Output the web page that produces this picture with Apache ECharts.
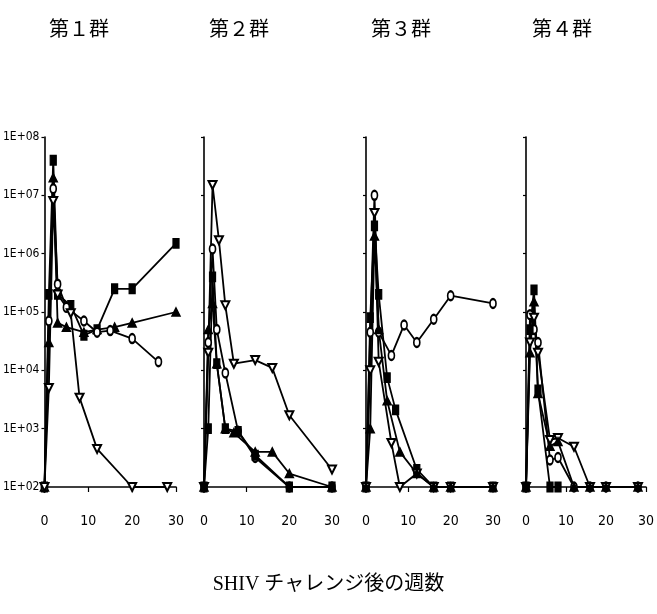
<!DOCTYPE html>
<html><head><meta charset="utf-8">
<script src="https://cdn.jsdelivr.net/npm/echarts@6/dist/echarts.min.js"></script>
<style>html,body{margin:0;padding:0;background:#fff}#c{width:657px;height:614px}</style>
</head><body><div id="c"></div>
<script>
const panelTitles = ['第１群', '第２群', '第３群', '第４群'];
const xAxisTitle = 'SHIV チャレンジ後の週数';
const xTicks = [0, 10, 20, 30];
const yTickExponents = [2, 3, 4, 5, 6, 7, 8];

// Group 1
const g1SquareWeeks = [0, 1, 2, 3, 6, 9, 12, 16, 20, 30];
const g1SquareVals  = [100, 2e5, 4e7, 2e5, 1.3e5, 4e4, 5e4, 2.5e5, 2.5e5, 1.5e6];
const g1TriWeeks    = [0, 1, 2, 3, 5, 9, 12, 16, 20, 30];
const g1TriVals     = [100, 3e4, 2e7, 6.5e4, 5.5e4, 4.5e4, 5e4, 5.5e4, 6.5e4, 1e5];
const g1CircWeeks   = [0, 1, 2, 3, 5, 9, 12, 15, 20, 26];
const g1CircVals    = [100, 7e4, 1.3e7, 3e5, 1.2e5, 7e4, 4.5e4, 4.8e4, 3.5e4, 1.4e4];
const g1DTriWeeks   = [0, 1, 2, 3, 6, 8, 12, 20, 28];
const g1DTriVals    = [100, 5e3, 8e6, 2e5, 9.5e4, 3.4e3, 450, 100, 100];

// Group 2
const g2DTriWeeks   = [0, 1, 2, 3.5, 5, 7, 12, 16, 20, 30];
const g2DTriVals    = [100, 2e4, 1.5e7, 1.7e6, 1.3e5, 1.3e4, 1.5e4, 1.1e4, 1.7e3, 200];
const g2CircWeeks   = [0, 1, 2, 3, 5, 8, 12, 20, 30];
const g2CircVals    = [100, 3e4, 1.2e6, 5e4, 9e3, 900, 320, 100, 100];
const g2TriWeeks    = [0, 1, 2, 3, 5, 7, 12, 16, 20, 30];
const g2TriVals     = [100, 5e4, 1.4e5, 1.3e4, 1e3, 850, 400, 400, 170, 100];
const g2SquareWeeks = [0, 1, 2, 3, 5, 8, 12, 20, 30];
const g2SquareVals  = [100, 1e3, 4e5, 1.3e4, 1e3, 900, 350, 100, 100];

// Group 3
const g3CircWeeks   = [0, 1, 2, 3, 6, 9, 12, 16, 20, 30];
const g3CircVals    = [100, 4.5e4, 1e7, 4.5e4, 1.8e4, 6e4, 3e4, 7.5e4, 1.9e5, 1.4e5];
const g3SquareWeeks = [0, 1, 2, 3, 5, 7, 12, 16, 20, 30];
const g3SquareVals  = [100, 8e4, 3e6, 2e5, 7.5e3, 2.1e3, 200, 100, 100, 100];
const g3DTriWeeks   = [0, 1, 2, 3, 6, 8, 12, 16, 20, 30];
const g3DTriVals    = [100, 1e4, 5e6, 1.4e4, 570, 100, 170, 100, 100, 100];
const g3TriWeeks    = [0, 1, 2, 3, 5, 8, 12, 16, 20, 30];
const g3TriVals     = [100, 1e3, 2e6, 5e4, 3e3, 400, 170, 100, 100, 100];

// Group 4
const g4CircWeeks   = [0, 1, 2, 3, 6, 8, 12, 16, 20, 28];
const g4CircVals    = [100, 9e4, 5e4, 3e4, 290, 320, 100, 100, 100, 100];
const g4DTriWeeks   = [0, 1, 2, 3, 6, 8, 12, 16, 20, 28];
const g4DTriVals    = [100, 3e4, 8e4, 2e4, 640, 690, 490, 100, 100, 100];
const g4SquareWeeks = [0, 1, 2, 3, 6, 8];
const g4SquareVals  = [100, 5e4, 2.4e5, 4.6e3, 100, 100];
const g4TriWeeks    = [0, 1, 2, 3, 6, 8, 12, 16, 20, 28];
const g4TriVals     = [100, 2e4, 1.5e5, 4e3, 500, 600, 100, 100, 100, 100];

const panels = [
  [['sq', g1SquareWeeks, g1SquareVals], ['tri', g1TriWeeks, g1TriVals], ['circ', g1CircWeeks, g1CircVals], ['dtri', g1DTriWeeks, g1DTriVals]],
  [['dtri', g2DTriWeeks, g2DTriVals], ['circ', g2CircWeeks, g2CircVals], ['tri', g2TriWeeks, g2TriVals], ['sq', g2SquareWeeks, g2SquareVals]],
  [['circ', g3CircWeeks, g3CircVals], ['sq', g3SquareWeeks, g3SquareVals], ['dtri', g3DTriWeeks, g3DTriVals], ['tri', g3TriWeeks, g3TriVals]],
  [['circ', g4CircWeeks, g4CircVals], ['dtri', g4DTriWeeks, g4DTriVals], ['sq', g4SquareWeeks, g4SquareVals], ['tri', g4TriWeeks, g4TriVals]]
];

const gridLefts = [40, 204, 366, 526];
const gridWidths = [136, 128, 127, 128];
const titleCenters = [79, 239, 401, 562];
const narrow = "'Liberation Sans Narrow', 'DejaVu Sans Condensed', sans-serif";

const symbolStyle = {
  sq:   { symbol: 'rect', symbolSize: [6, 9], symbolRotate: 0 },
  tri:  { symbol: 'triangle', symbolSize: [8, 8], symbolRotate: 0 },
  circ: { symbol: 'emptyCircle', symbolSize: [6, 9], symbolRotate: 0 },
  dtri: { symbol: 'emptyTriangle', symbolSize: [8, 8], symbolRotate: 180 }
};

const grids = [], xAxes = [], yAxes = [], series = [];
panels.forEach((panel, i) => {
  grids.push({ left: gridLefts[i], width: gridWidths[i], top: 137, bottom: 127 });
  xAxes.push({
    type: 'value', gridIndex: i, min: xTicks[0], max: xTicks[xTicks.length - 1], interval: 10,
    axisLine: { show: true, onZero: false, lineStyle: { color: '#000', width: 1.6 } },
    axisTick: { show: true, inside: false, length: 5, lineStyle: { color: '#000', width: 1.2 } },
    splitLine: { show: false },
    axisLabel: { margin: 27, color: '#000', fontFamily: narrow, fontSize: 14 }
  });
  yAxes.push({
    type: 'log', logBase: 10, gridIndex: i,
    min: Math.pow(10, yTickExponents[0]), max: Math.pow(10, yTickExponents[yTickExponents.length - 1]),
    axisLine: { show: true, lineStyle: { color: '#000', width: 1.6 } },
    axisTick: { show: true, inside: false, length: 3, lineStyle: { color: '#000', width: 1.2 } },
    splitLine: { show: false },
    minorTick: { show: false },
    axisLabel: {
      show: i === 0, margin: 5, color: '#000', fontFamily: narrow, fontSize: 12,
      formatter: v => '1E+' + String(Math.round(Math.log10(v))).padStart(2, '0')
    }
  });
  panel.forEach(([kind, w, v]) => {
    const s = symbolStyle[kind];
    series.push({
      type: 'line', xAxisIndex: i, yAxisIndex: i,
      data: w.map((wk, k) => [wk, v[k]]),
      symbol: s.symbol, symbolSize: s.symbolSize, symbolRotate: s.symbolRotate,
      showAllSymbol: true, clip: false,
      lineStyle: { color: '#000', width: 1.8 },
      itemStyle: { color: '#000', borderColor: '#000', borderWidth: 1.5 },
      animation: false
    });
  });
});

const titles = panelTitles.map((t, i) => ({
  text: t, left: titleCenters[i] - 30, top: 18, padding: 0,
  textStyle: { fontFamily: "'Noto Sans CJK JP', sans-serif", fontSize: 20, fontWeight: 'normal', color: '#000' }
}));
titles.push({
  text: xAxisTitle, left: 'center', top: 575, padding: 0,
  textStyle: { fontFamily: "'Liberation Serif', 'Noto Sans CJK JP', serif", fontSize: 20, fontWeight: 'normal', color: '#000' }
});

const chart = echarts.init(document.getElementById('c'), null, { renderer: 'canvas' });
chart.setOption({
  backgroundColor: '#fff',
  animation: false,
  title: titles,
  grid: grids,
  xAxis: xAxes,
  yAxis: yAxes,
  series: series
});
</script></body></html>
